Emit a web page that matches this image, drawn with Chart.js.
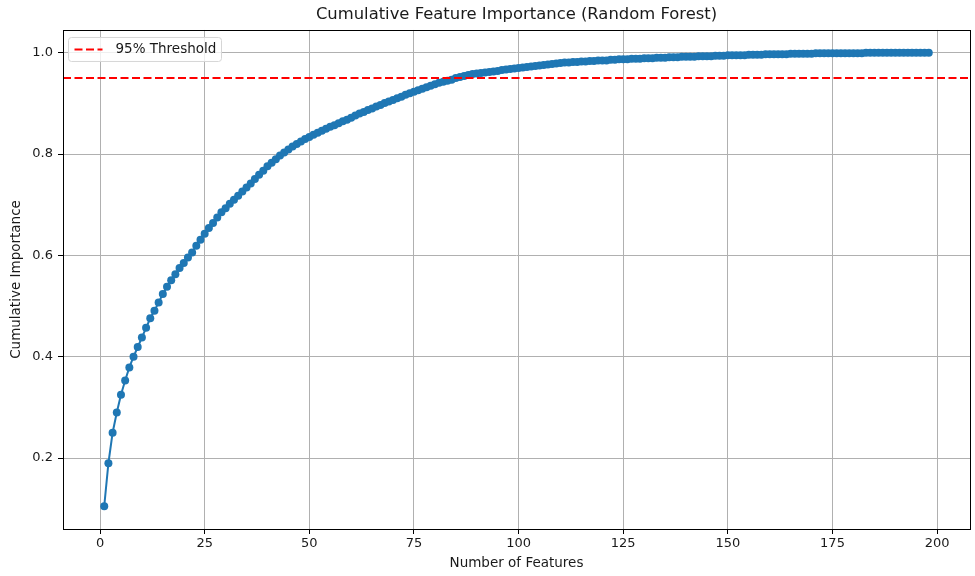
<!DOCTYPE html>
<html>
<head>
<meta charset="utf-8">
<script src="https://cdn.jsdelivr.net/npm/chart.js@4.4.1/dist/chart.umd.min.js"></script>
<style>
  body { margin: 0; background: #fff; }
  #wrap { width: 975px; height: 576px; }
</style>
</head>
<body>
<div id="wrap"><canvas id="chart"></canvas></div>
<script>
// cumulative importance per number of features
const cumulativeImportance = [
    0.105, 0.190, 0.250, 0.290, 0.325, 0.353, 0.379, 0.400, 0.419, 0.438,
    0.457, 0.476, 0.491, 0.507, 0.524, 0.538, 0.551, 0.563, 0.575, 0.585,
    0.596, 0.606, 0.619, 0.631, 0.643, 0.654, 0.664, 0.675, 0.685, 0.693,
    0.702, 0.710, 0.718, 0.726, 0.734, 0.742, 0.751, 0.759, 0.767, 0.776,
    0.783, 0.790, 0.797, 0.803, 0.809, 0.815, 0.820, 0.825, 0.830, 0.834,
    0.838, 0.842, 0.846, 0.850, 0.854, 0.857, 0.861, 0.865, 0.868, 0.872,
    0.876, 0.880, 0.883, 0.887, 0.890, 0.894, 0.897, 0.901, 0.904, 0.907,
    0.910, 0.913, 0.917, 0.920, 0.923, 0.926, 0.929, 0.932, 0.935, 0.938,
    0.941, 0.943, 0.945, 0.947, 0.950, 0.952, 0.954, 0.956, 0.958, 0.959,
    0.960, 0.961, 0.962, 0.963, 0.964, 0.966, 0.967, 0.968, 0.969, 0.970,
    0.971, 0.972, 0.973, 0.974, 0.975, 0.976, 0.977, 0.978, 0.979, 0.980,
    0.981, 0.981, 0.982, 0.982, 0.983, 0.983, 0.984, 0.984, 0.985, 0.985,
    0.985, 0.986, 0.986, 0.987, 0.987, 0.987, 0.988, 0.988, 0.988, 0.989,
    0.989, 0.989, 0.990, 0.990, 0.990, 0.991, 0.991, 0.991, 0.992, 0.992,
    0.992, 0.992, 0.993, 0.993, 0.993, 0.993, 0.994, 0.994, 0.994, 0.995,
    0.995, 0.995, 0.995, 0.995, 0.996, 0.996, 0.996, 0.996, 0.997, 0.997,
    0.997, 0.997, 0.997, 0.997, 0.998, 0.998, 0.998, 0.998, 0.998, 0.998,
    0.999, 0.999, 0.999, 0.999, 0.999, 0.999, 0.999, 0.999, 0.999, 0.999,
    0.999, 0.999, 1.000, 1.000, 1.000, 1.000, 1.000, 1.000, 1.000, 1.000,
    1.000, 1.000, 1.000, 1.000, 1.000, 1.000, 1.000, 1.000
];
const featureCounts = cumulativeImportance.map((_, i) => i + 1);

const threshold = 0.95;
const xTicks = [0, 25, 50, 75, 100, 125, 150, 175, 200];
const yTicks = [0.2, 0.4, 0.6, 0.8, 1.0];
const xRange = [-8.85, 207.85];
const yRange = [0.060, 1.045];

const FONT = 'DejaVu Sans';
const TEXT = '#1a1a1a';

// top/right spines, like matplotlib's frame
const framePlugin = {
    id: 'frame',
    afterDatasetsDraw(chart) {
        const { ctx, chartArea: a } = chart;
        ctx.save();
        ctx.strokeStyle = '#000';
        ctx.lineWidth = 1;
        ctx.strokeRect(Math.round(a.left) + 0.5, Math.round(a.top) + 0.5,
            Math.round(a.right - a.left), Math.round(a.bottom - a.top));
        ctx.restore();
    }
};

// legend box in the upper left of the plot
const boxLegend = {
    id: 'boxLegend',
    afterDraw(chart) {
        const { ctx, chartArea: a } = chart;
        const ds = chart.data.datasets[1];
        const x = a.left + 5.5, y = a.top + 7.5, w = 153, h = 24;
        ctx.save();
        ctx.fillStyle = 'rgba(255,255,255,0.8)';
        ctx.strokeStyle = '#d6d6d6';
        ctx.lineWidth = 1;
        ctx.beginPath();
        ctx.roundRect(x, y, w, h, 3);
        ctx.fill();
        ctx.stroke();
        ctx.strokeStyle = ds.borderColor;
        ctx.lineWidth = ds.borderWidth;
        ctx.setLineDash(ds.borderDash);
        ctx.beginPath();
        ctx.moveTo(x + 6, y + h / 2);
        ctx.lineTo(x + 34, y + h / 2);
        ctx.stroke();
        ctx.setLineDash([]);
        ctx.fillStyle = TEXT;
        ctx.font = '13.5px "' + FONT + '"';
        ctx.textBaseline = 'middle';
        ctx.fillText(ds.label, x + 47, y + h / 2 + 0.5);
        ctx.restore();
    }
};

const ctx = document.getElementById('chart').getContext('2d');
new Chart(ctx, {
    type: 'line',
    data: {
        datasets: [
            {
                label: 'Cumulative Importance',
                data: featureCounts.map((f, i) => ({ x: f, y: cumulativeImportance[i] })),
                borderColor: '#1f77b4',
                backgroundColor: '#1f77b4',
                borderWidth: 2,
                pointRadius: 4,
                pointBorderWidth: 0,
                pointBackgroundColor: '#1f77b4',
                tension: 0,
                order: 1
            },
            {
                label: '95% Threshold',
                data: xRange.map(x => ({ x: x, y: threshold })),
                borderColor: '#ff0000',
                borderWidth: 2,
                borderDash: [8, 3.5],
                pointRadius: 0,
                order: 0
            }
        ]
    },
    options: {
        responsive: true,
        maintainAspectRatio: false,
        animation: false,
        devicePixelRatio: 1,
        layout: { padding: { left: 0, right: 5, top: 0, bottom: 0 } },
        plugins: {
            legend: { display: false },
            tooltip: { enabled: false },
            title: {
                display: true,
                text: 'Cumulative Feature Importance (Random Forest)',
                fullSize: false,
                color: TEXT,
                font: { family: FONT, size: 16.4, weight: 'normal' },
                padding: { top: 5, bottom: 5.3 }
            }
        },
        scales: {
            x: {
                type: 'linear',
                min: xRange[0],
                max: xRange[1],
                afterBuildTicks: s => { s.ticks = xTicks.map(v => ({ value: v })); },
                afterFit: s => { s.height = 47; },
                ticks: {
                    color: TEXT,
                    font: { family: FONT, size: 13 },
                    padding: 1.5,
                    maxRotation: 0,
                    callback: v => String(v)
                },
                grid: { color: '#b0b0b0', lineWidth: 1, tickColor: '#000', tickLength: 5 },
                border: { display: false },
                title: {
                    display: true,
                    text: 'Number of Features',
                    color: TEXT,
                    font: { family: FONT, size: 13.5 },
                    padding: { top: 0, bottom: 4.8 }
                }
            },
            y: {
                type: 'linear',
                min: yRange[0],
                max: yRange[1],
                afterBuildTicks: s => { s.ticks = yTicks.map(v => ({ value: v })); },
                afterFit: s => { s.width = 63; },
                ticks: {
                    color: TEXT,
                    font: { family: FONT, size: 13 },
                    padding: 5,
                    callback: v => Number(v).toFixed(1)
                },
                grid: { color: '#b0b0b0', lineWidth: 1, tickColor: '#000', tickLength: 5 },
                border: { display: false },
                title: {
                    display: true,
                    text: 'Cumulative Importance',
                    color: TEXT,
                    font: { family: FONT, size: 13.5 },
                    padding: { top: 8.8, bottom: 0 }
                }
            }
        }
    },
    plugins: [framePlugin, boxLegend]
});
</script>
</body>
</html>
